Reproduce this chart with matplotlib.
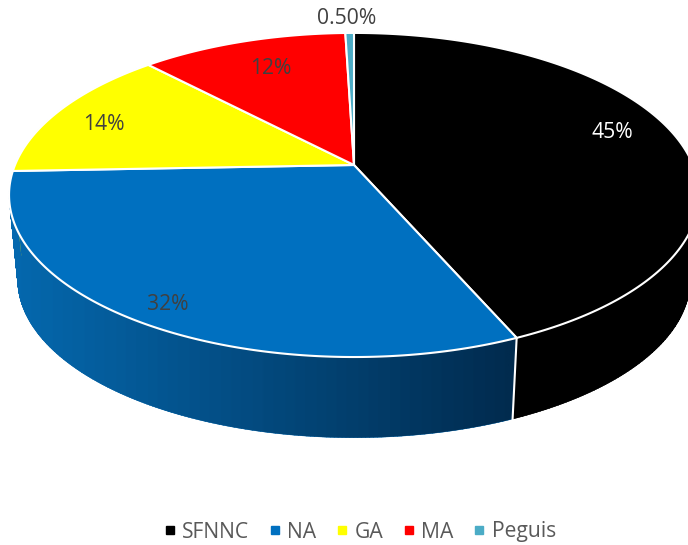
#!/usr/bin/env python3
"""3D-look pie: slices are projected through a small perspective map."""

import matplotlib
matplotlib.use("Agg")
import matplotlib.pyplot as plt
from matplotlib.colors import LinearSegmentedColormap
from matplotlib.lines import Line2D
from matplotlib.patches import PathPatch
from matplotlib.path import Path
import numpy as np

plt.rcParams["font.family"] = ["Open Sans", "DejaVu Sans"]

categories = ["SFNNC", "NA", "GA", "MA", "Peguis"]
values = [45, 32, 14, 12, 0.5]
value_labels = ["45%", "32%", "14%", "12%", "0.50%"]
top_colors = ["#000000", "#0070C0", "#FFFF00", "#FF0000", "#4BACC6"]
side_left = ["#000000", "#0568AE", "#E6E600", "#E00000", "#3F97AE"]
side_right = ["#000000", "#012B4E", "#E6E600", "#E00000", "#3F97AE"]
label_pos = [(612, 133), (168, 304), (104, 125), (271, 69), (347, 18)]
label_col = ["white", "#404040", "#404040", "#404040", "#404040"]

CX, CY = 354, 165
A, B, K = 339, 156.5, 0.185
DEPTH, SHRINK = 85.5, 0.975


def project(t, lower=False):
    """t is the clockwise angle from 12 o'clock, pixels come back."""
    x, y = np.sin(t), -np.cos(t)
    w = 1 - K * y
    px, py = A * x / w, B * y / w
    if lower:
        px, py = px * SHRINK, py * SHRINK + DEPTH
    return CX + px, CY + py


def wall_path(t0, t1, n=200):
    """Compound path of quads, so the left silhouette is swept properly."""
    ts = np.linspace(t0, t1, n)
    xu, yu = project(ts)
    xl, yl = project(ts, lower=True)
    quads = []
    for j in range(n - 1):
        quads.append(Path([(xu[j], yu[j]), (xu[j + 1], yu[j + 1]), (xl[j + 1], yl[j + 1]),
                           (xl[j], yl[j]), (xu[j], yu[j])], closed=True))
    return Path.make_compound_path(*quads)


fig = plt.figure(figsize=(6.88, 5.45), dpi=100)
ax = fig.add_axes([0, 0, 1, 1])

frac = np.cumsum([0] + values) / sum(values) * 2 * np.pi
spans = list(zip(frac[:-1], frac[1:]))

# side wall first, back slices before front ones, the top hides the rest
for i in reversed(range(len(spans))):
    t0, t1 = spans[i]
    path = wall_path(t0, t1)
    patch = PathPatch(path, facecolor=side_left[i], edgecolor=side_left[i], lw=0.3, zorder=2)
    ax.add_patch(patch)
    cmap = LinearSegmentedColormap.from_list("wall", [side_left[i], side_right[i]], N=48)
    xs, _ = project(np.linspace(t0, t1, 200))
    ys = path.vertices[:, 1]
    im = ax.imshow(np.linspace(0, 1, 256)[None, :], cmap=cmap, aspect="auto",
                   extent=(xs.min(), xs.max(), ys.max(), ys.min()), zorder=2.1)
    im.set_clip_path(patch)

# seam on the front of the wall between SFNNC and NA
xa, ya = project(spans[0][1])
xb, yb = project(spans[0][1], lower=True)
ax.plot([xa, xb], [ya, yb], color="white", lw=1.5, zorder=3)

for i, (t0, t1) in enumerate(spans):
    ts = np.linspace(t0, t1, 200)
    xs, ys = project(ts)
    ax.fill(np.r_[CX, xs], np.r_[CY, ys], facecolor=top_colors[i],
            edgecolor="white", lw=1.5, joinstyle="round", zorder=4)

for txt, (x, y), c in zip(value_labels, label_pos, label_col):
    ax.text(x, y, txt, color=c, fontsize=15.2, ha="center", va="center", zorder=5)

ax.set_xlim(0, 688)
ax.set_ylim(545, 0)
ax.axis("off")

handles = [Line2D([], [], ls="none", marker="s", ms=5.2, color=c) for c in top_colors]
ax.legend(handles, categories, loc="center", bbox_to_anchor=(359 / 688, 1 - 532 / 545),
          ncols=5, frameon=False, fontsize=15.2, labelcolor="#595959",
          handlelength=0.7, handletextpad=0.25, columnspacing=0.85,
          borderpad=0, borderaxespad=0)

fig.savefig("out.png", dpi=100)
